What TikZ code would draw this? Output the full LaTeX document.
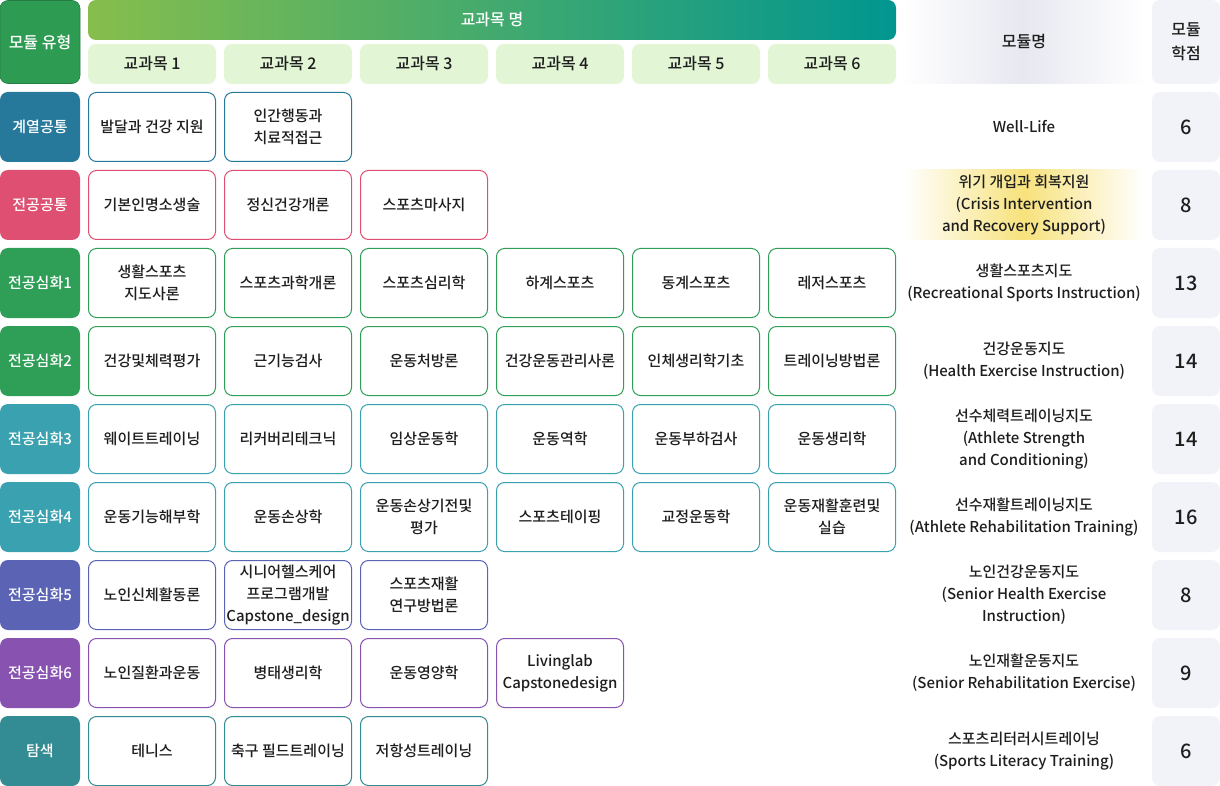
\documentclass[tikz,border=0pt]{standalone}
\usepackage{fontspec}
\setmainfont{Noto Sans CJK KR}[UprightFont=* Medium, BoldFont=* Bold]
\usetikzlibrary{positioning}

\definecolor{ink}{HTML}{1E1E1E}
\definecolor{cHead}{HTML}{2E9B52}
\definecolor{cA}{HTML}{26799B}
\definecolor{cB}{HTML}{DE4F72}
\definecolor{cC}{HTML}{2F9E57}
\definecolor{cD}{HTML}{3AA1B0}
\definecolor{cE}{HTML}{5B63B4}
\definecolor{cF}{HTML}{8752B0}
\definecolor{cG}{HTML}{338B93}
\definecolor{subbg}{HTML}{E2F6D6}
\definecolor{crbg}{HTML}{F2F3F8}
\definecolor{namebg}{HTML}{E7E8F0}
\definecolor{hilite}{HTML}{F7E27C}
\definecolor{barL}{HTML}{86BE4C}
\definecolor{barR}{HTML}{009690}

\begin{document}
\begin{tikzpicture}[x=1pt, y=-1pt,
  typebox/.style={rounded corners=8pt, minimum width=80pt, minimum height=70pt, inner sep=0pt,
    text=white, font=\fontsize{15}{20}\selectfont},
  course/.style={draw, fill=white, line width=1pt, rounded corners=8pt, minimum width=127pt,
    minimum height=69pt, inner sep=0pt, align=center, text=ink, font=\fontsize{15}{22}\selectfont},
  subhead/.style={fill=subbg, rounded corners=8pt, minimum width=128pt, minimum height=40pt,
    inner sep=0pt, text=ink, font=\fontsize{16}{20}\selectfont},
  credit/.style={fill=crbg, rounded corners=8pt, minimum width=68pt, minimum height=70pt,
    inner sep=0pt, align=center, text=ink, font=\fontsize{20}{24}\selectfont},
  modname/.style={align=center, inner sep=0pt, text=ink, font=\fontsize{15}{22}\selectfont}]
  \useasboundingbox (0,0) rectangle (1220,786);
  \def\colx#1{152+136*(#1-1)}
  \def\rowy#1{127+78*(#1-1)}

  % header
  \node[typebox, draw=cHead!80!black, line width=.6pt, fill=cHead, minimum height=83pt,
    font=\fontsize{16}{20}\selectfont] (modtype) at (40,42) {모듈 유형};
  \shade[left color=barL, right color=barR, rounded corners=8pt] (88,0) rectangle (896,40);
  \node[text=white, font=\fontsize{16}{20}\selectfont] (subjhead) at (492,20) {교과목 명};
  \foreach \c in {1,...,6}
    \node[subhead] (s\c) at ({\colx{\c}},64) {교과목 \c};
  \shade[left color=white, right color=white, middle color=namebg] (900,0) rectangle (1146,84);
  \node[modname, font=\fontsize{16}{20}\selectfont] (namehead) at (1024,42) {모듈명};
  \node[credit, minimum height=84pt, font=\fontsize{16}{24}\selectfont] (crhead) at (1186,42) {모듈\\학점};

  % highlight behind crisis module
  \shade[left color=white, right color=white, middle color=hilite] (904,170) rectangle (1144,240);

  % module types, names and credits
  \foreach \r/\lab/\col/\pts/\mod in {
      1/계열공통/cA/6/Well-Life,
      2/전공공통/cB/8/위기 개입과 회복지원\\(Crisis Intervention\\and Recovery Support),
      3/전공심화1/cC/13/생활스포츠지도\\(Recreational Sports Instruction),
      4/전공심화2/cC/14/건강운동지도\\(Health Exercise Instruction),
      5/전공심화3/cD/14/선수체력트레이닝지도\\(Athlete Strength\\and Conditioning),
      6/전공심화4/cD/16/선수재활트레이닝지도\\(Athlete Rehabilitation Training),
      7/전공심화5/cE/8/노인건강운동지도\\(Senior Health Exercise\\Instruction),
      8/전공심화6/cF/9/노인재활운동지도\\(Senior Rehabilitation Exercise),
      9/탐색/cG/6/스포츠리터러시트레이닝\\(Sports Literacy Training)} {
    \node[typebox, fill=\col] (t\r) at (40,{\rowy{\r}}) {\lab};
    \node[modname] (m\r) at (1024,{\rowy{\r}}) {\mod};
    \node[credit] (p\r) at (1186,{\rowy{\r}}) {\pts};
  }

  % courses
  \foreach \c/\txt in {1/발달과 건강 지원, 2/인간행동과\\치료적접근}
    \node[course, draw=cA] (k1\c) at ({\colx{\c}},{\rowy{1}}) {\txt};
  \foreach \c/\txt in {1/기본인명소생술, 2/정신건강개론, 3/스포츠마사지}
    \node[course, draw=cB] (k2\c) at ({\colx{\c}},{\rowy{2}}) {\txt};
  \foreach \c/\txt in {1/생활스포츠\\지도사론, 2/스포츠과학개론, 3/스포츠심리학, 4/하계스포츠, 5/동계스포츠, 6/레저스포츠}
    \node[course, draw=cC] (k3\c) at ({\colx{\c}},{\rowy{3}}) {\txt};
  \foreach \c/\txt in {1/건강및체력평가, 2/근기능검사, 3/운동처방론, 4/건강운동관리사론, 5/인체생리학기초, 6/트레이닝방법론}
    \node[course, draw=cC] (k4\c) at ({\colx{\c}},{\rowy{4}}) {\txt};
  \foreach \c/\txt in {1/웨이트트레이닝, 2/리커버리테크닉, 3/임상운동학, 4/운동역학, 5/운동부하검사, 6/운동생리학}
    \node[course, draw=cD] (k5\c) at ({\colx{\c}},{\rowy{5}}) {\txt};
  \foreach \c/\txt in {1/운동기능해부학, 2/운동손상학, 3/운동손상기전및\\평가, 4/스포츠테이핑, 5/교정운동학, 6/운동재활훈련및\\실습}
    \node[course, draw=cD] (k6\c) at ({\colx{\c}},{\rowy{6}}) {\txt};
  \foreach \c/\txt in {1/노인신체활동론, 2/시니어헬스케어\\프로그램개발\\Capstone\_design, 3/스포츠재활\\연구방법론}
    \node[course, draw=cE] (k7\c) at ({\colx{\c}},{\rowy{7}}) {\txt};
  \foreach \c/\txt in {1/노인질환과운동, 2/병태생리학, 3/운동영양학, 4/Livinglab\\Capstonedesign}
    \node[course, draw=cF] (k8\c) at ({\colx{\c}},{\rowy{8}}) {\txt};
  \foreach \c/\txt in {1/테니스, 2/축구 필드트레이닝, 3/저항성트레이닝}
    \node[course, draw=cG] (k9\c) at ({\colx{\c}},{\rowy{9}}) {\txt};
\end{tikzpicture}
\end{document}
